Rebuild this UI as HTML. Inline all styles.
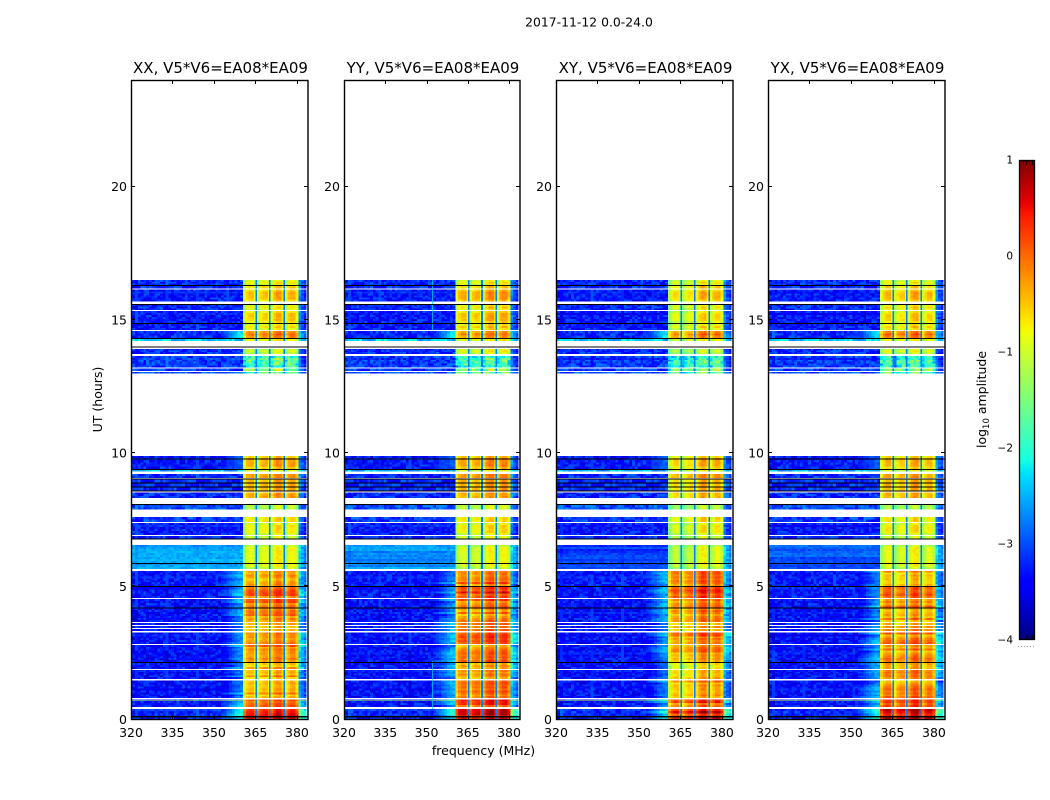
<!DOCTYPE html>
<html lang="en">
<head>
<meta charset="utf-8">
<title>2017-11-12 spectrogram</title>
<style>
html,body{margin:0;padding:0;background:#fff;}
body{width:1050px;height:800px;overflow:hidden;}
svg{display:block;}
text{font-family:"DejaVu Sans","Liberation Sans",sans-serif;fill:#000;}
</style>
</head>
<body>
<svg id="chart" xmlns="http://www.w3.org/2000/svg" width="1050" height="800" viewBox="0 0 1050 800">
<rect x="0" y="0" width="1050" height="800" fill="#fff"/>
<text x="589" y="26.5" font-size="12.4" text-anchor="middle">2017-11-12 0.0-24.0</text>
<text x="483.5" y="755" font-size="12.5" text-anchor="middle">frequency (MHz)</text>
<text x="0" y="0" font-size="12.5" text-anchor="middle" transform="translate(102,399.5) rotate(-90)">UT (hours)</text>
<text x="0" y="0" font-size="12.5" text-anchor="middle" transform="translate(986,399.5) rotate(-90)">log<tspan font-size="8.5" dy="3">10</tspan><tspan dy="-3"> amplitude</tspan></text>
<g id="panels"></g>
<g id="colorbar"></g>
</svg>
<script>
// Axis ranges and ticks
const freqMin = 320, freqMax = 384, hourMin = 0, hourMax = 24;
const freqTicks = [320, 335, 350, 365, 380];
const hourTicks = [0, 5, 10, 15, 20];
const colorTicks = [1, 0, -1, -2, -3, -4];
const colorTickLabels = ['1', '0', '\u22121', '\u22122', '\u22123', '\u22124'];
const colorMin = -4, colorMax = 1;

// Panels
const panelNames = ['XX', 'YY', 'XY', 'YX'];
const panelTitle = ', V5*V6=EA08*EA09';

// Observed time rows (UT hours); gaps between rows are unobserved
const rowStart = [0,.46,.69,.72,.80,1.52,1.89,2.16,2.83,3.33,3.43,3.55,3.66,4.21,4.56,5.01,5.65,6.79,6.92,7.42,7.88,8.32,8.46,8.59,8.74,8.89,9.06,9.31,9.41,12.98,13.08,13.22,13.72,14.21,14.32,14.62,14.88,15.37,15.69,16.17,16.30];
const rowEnd   = [.39,.69,.72,.76,1.46,1.86,2.13,2.80,3.27,3.40,3.51,3.62,4.18,4.52,4.97,5.58,6.55,6.89,7.38,7.60,8.05,8.46,8.51,8.70,8.85,9.00,9.21,9.37,9.89,13.04,13.18,13.64,13.91,14.29,14.58,14.85,15.33,15.56,16.13,16.26,16.49];

// Log10 amplitude for each row: background, shoulder, upper edge
const rowBg       = [-3.2,-3.3,-1.2,-3.3,-3.35,-3.35,-3.35,-3.35,-3.35,-3.3,-3.3,-3.3,-3.35,-3.35,-3.3,-3.3,-3,-3.2,-3.3,-3.1,-3,-3.2,-3.2,-3.2,-3.2,-3.2,-3.2,-2.5,-3.3,-3,-3.1,-3.1,-3.2,-2.4,-3.2,-3.3,-3.3,-3.2,-3.3,-3.2,-3.2];
const rowShoulder = [-2.1,-2.5,-1.2,-2.5,-2.6,-2.7,-2.7,-2.5,-2.5,-2.6,-2.6,-2.6,-2.6,-2.5,-2.5,-2.6,null,null,null,null,null,null,null,null,null,null,null,null,-2.9,null,null,null,null,null,-2.2,null,null,null,null,null,null];
const rowEdge     = [-2.1,-2.8,-1.2,-2.8,-3.0,-2.9,-2.8,-2.6,-2.5,-2.9,-2.9,-2.9,-2.8,-2.7,-2.7,-2.9,-2.75,-3.2,-3.3,-3.2,-3.1,-3.1,-3.1,-3.1,-3.1,-3.1,-3.1,-2.6,-3.1,-3.2,-3.2,-3.3,-3.3,-2.6,-2.9,-3.2,-3.2,-3.2,-3.2,-3.2,-3.1];

// Band level per row for each polarisation
const levelsXX = [.4,-.1,0,0,-.3,-.35,-.45,-.1,-.1,-.3,-.25,-.25,-.15,0,.05,-.45,-.85,-1,-.75,-.65,-1.15,-.3,-.4,-.4,-.4,-.4,-.25,-.9,-.35,-1.6,-1.4,-1.7,-.9,-.8,0,-.65,-.55,-.7,-.45,-.6,-.7];
const levelsYY = [.5,.15,.2,.2,-.2,-.45,-.55,-.2,0,-.2,-.25,-.25,-.25,-.05,.25,-.05,-.95,-1,-.75,-.7,-1.1,-.4,-.4,-.4,-.4,-.4,-.25,-.9,-.3,-1.6,-1.4,-1.8,-.8,-.9,-.15,-.55,-.5,-.65,-.35,-.6,-.75];
const levelsXY = [.45,.1,.2,.2,-.25,-.35,-.55,-.2,-.05,-.3,-.25,-.25,-.3,-.15,.15,-.15,-.95,-1.1,-.8,-.7,-1.2,-.5,-.5,-.5,-.5,-.5,-.3,-.9,-.45,-1.6,-1.4,-1.75,-1,-.9,-.05,-.7,-.7,-.75,-.5,-.6,-.75];
const levelsYX = [.5,.15,.25,.25,-.2,-.25,-.5,-.2,-.1,-.3,-.25,-.25,-.25,-.1,.2,-.35,-.85,-1,-.7,-.7,-1.15,-.4,-.4,-.4,-.4,-.4,-.3,-.9,-.4,-1.6,-1.4,-1.7,-.8,-.8,.05,-.55,-.55,-.6,-.4,-.6,-.7];

// The pale 5.65-6.55 h row has a different background per polarisation
const paleRowBg = [-2.6, -2.65, -3.1, -2.95];
const paleRow = 16;

// Per-polarisation offsets of the four passbands
const bandOffsetXX = [-.05, -.05, .15, .05];
const bandOffsetYY = [0, -.05, .2, .15];
const bandOffsetXY = [-.15, -.2, .2, .1];
const bandOffsetYX = [0, -.15, .15, -.05];

// Passband edges, per-channel shape and narrow notches
const bandEdges = [360.5, 365.5, 370.5, 375.5, 380.5];
const bandShape = [-.45, -.1, .05, .05, -.3];
const rowRimDrop = -.2;
const notchFreqs = [365, 369.9, 375.1];
const notchWidth = .6;
const notchLevel = -2.75;
const shoulderRamp = [.95, .9, .75, .6, .45, .3, .15, .05];
const edgeShape = [.45, .2, 0, -.1];

// Measured speckle and striping textures (log10 offsets)
const speckle = [.12,-.21,.3,-.08,.02,-.33,.19,-.14,.27,.05,-.26,.09,-.03,.33,-.18,.07,-.3,.16,-.11,.24,-.05,.31,-.24,.01,.14,-.17,.22,-.34,.1,-.07,.28,-.2,.04,-.12,.18,-.28,.25,-.02,.11,-.23,.34,-.15,.06];
const stripes = [.1,-.18,.22,-.05,.14,-.25,.03,.2,-.12,.16,-.3,.08,.24,-.08,-.2,.12,-.02,.26,-.16,.06,-.22,.18,-.1];

// Thin dropouts drawn black
const darkStart = [.08,2.13,4.18,4.97,5.84,6.76,8.05,8.55,8.70,8.85,9.00,9.37,9.77,13.97,14.29,14.85,15.56,16.26];
const darkEnd   = [.13,2.16,4.21,5.01,5.87,6.79,8.08,8.59,8.74,8.89,9.04,9.41,9.80,14.00,14.32,14.88,15.59,16.30];

// Faint RFI spur visible in YY
const spurFreq = 352;
const spurPanel = 1;
const spurStart = [.4, 14.6];
const spurEnd = [2.2, 16.49];
const spurLevel = -2.3;

const panelLefts = [131, 344, 556, 768];
const panelWidths = [177, 176, 177, 177];
const axisTop = 80, axisBottom = 719.5;
const NS = 'http://www.w3.org/2000/svg';

function xScale(left, width, f) { return left + (f - freqMin) / (freqMax - freqMin) * width; }
function yScale(h) { return axisBottom - (h - hourMin) / (hourMax - hourMin) * (axisBottom - axisTop); }
function ramp(t, pts) {
  for (let i = 1; i < pts.length; i++) {
    if (t <= pts[i][0]) {
      const a = pts[i - 1], b = pts[i];
      return a[1] + (b[1] - a[1]) * (t - a[0]) / (b[0] - a[0]);
    }
  }
  return pts[pts.length - 1][1];
}
function jet(t) {
  t = Math.max(0, Math.min(1, t));
  const r = ramp(t, [[0, 0], [.35, 0], [.66, 1], [.89, 1], [1, .5]]);
  const g = ramp(t, [[0, 0], [.125, 0], [.375, 1], [.64, 1], [.91, 0], [1, 0]]);
  const b = ramp(t, [[0, .5], [.11, 1], [.34, 1], [.65, 0], [1, 0]]);
  return 'rgb(' + Math.round(r * 255) + ',' + Math.round(g * 255) + ',' + Math.round(b * 255) + ')';
}
function colorOf(v) { return jet((v - colorMin) / (colorMax - colorMin)); }
function make(tag, parent) {
  const el = document.createElementNS(NS, tag);
  parent.appendChild(el);
  return el;
}
function setAttrs(el, o) { for (const k in o) el.setAttribute(k, o[k]); }

const levelTables = [levelsXX, levelsYY, levelsXY, levelsYX];
const offsetTables = [bandOffsetXX, bandOffsetYY, bandOffsetXY, bandOffsetYX];
const panelsRoot = document.getElementById('panels');
const subRowHours = .075;

function cellValue(p, r, ch, j, n) {
  const center = freqMin + ch;
  const low = rowStart[r] < 5.6;
  const noise = speckle[(ch * 17 + j * 29 + ((ch * j) % 11) * 7 + p * 11 + r * 3) % speckle.length];
  const stripe = stripes[(j * 2 + r * 2 + p * 3) % stripes.length];
  let bg = rowBg[r];
  if (r === paleRow) bg = paleRowBg[p];
  if (center < bandEdges[0]) {
    let v = r === paleRow ? bg + noise * .4 + stripe * .5 : bg + noise;
    if (rowShoulder[r] !== null) {
      const d = Math.floor(bandEdges[0] - center);
      if (d < shoulderRamp.length) {
        const w = shoulderRamp[d];
        v = bg * (1 - w) + rowShoulder[r] * w + noise * .4 + (low ? stripe : 0);
      }
    }
    return v;
  }
  if (center < bandEdges[4]) {
    const b = Math.min(3, Math.floor((center - bandEdges[0]) / 5));
    const k = Math.floor(center - bandEdges[b]);
    const L = levelTables[p][r];
    const amp = L < -1.3 ? 1.5 : .25;
    const rim = (!low && n >= 3 && (j === 0 || j === n - 1)) ? rowRimDrop : 0;
    return L + offsetTables[p][b] + bandShape[k] + rim + noise * amp + (low ? stripe : 0);
  }
  const e = Math.floor(center - bandEdges[4]);
  return rowEdge[r] + edgeShape[Math.min(e, 3)] + noise * .6 + (low ? stripe * .8 : 0);
}

panelNames.forEach(function (name, p) {
  const left = panelLefts[p], width = panelWidths[p];
  const key = name.toLowerCase();
  const g = make('g', panelsRoot);
  
  

  const clip = make('clipPath', g);
  clip.setAttribute('id', 'clip-' + key);
  const clipRect = make('rect', clip);
  setAttrs(clipRect, { x: left, y: axisTop, width: width, height: axisBottom - axisTop });

  const heat = make('g', g);
  
  
  heat.setAttribute('clip-path', 'url(#clip-' + key + ')');
  heat.setAttribute('shape-rendering', 'crispEdges');

  rowStart.forEach(function (start, r) {
    const end = rowEnd[r];
    const n = Math.max(1, Math.round((end - start) / subRowHours));
    const dh = (end - start) / n;
    for (let j = 0; j < n; j++) {
      const y0 = yScale(start + (j + 1) * dh), y1 = yScale(start + j * dh);
      for (let ch = 0; ch < freqMax - freqMin; ch++) {
        const x0 = xScale(left, width, freqMin + ch - .5), x1 = xScale(left, width, freqMin + ch + .5);
        const cell = make('rect', heat);
        
        
        cell.setAttribute('x', x0.toFixed(2));
        cell.setAttribute('y', y0.toFixed(2));
        cell.setAttribute('width', (x1 - x0).toFixed(2));
        cell.setAttribute('height', (y1 - y0).toFixed(2));
        cell.setAttribute('fill', colorOf(cellValue(p, r, ch, j, n)));
      }
    }
    notchFreqs.forEach(function (f) {
      const nx0 = xScale(left, width, f), nx1 = xScale(left, width, f + notchWidth);
      const notch = make('rect', heat);
      
      
      setAttrs(notch, { x: nx0.toFixed(2), y: yScale(end).toFixed(2), width: (nx1 - nx0).toFixed(2), height: (yScale(start) - yScale(end)).toFixed(2), fill: colorOf(notchLevel) });
    });
  });

  if (p === spurPanel) {
    spurStart.forEach(function (h0, i) {
      const spur = make('rect', heat);
      
      
      setAttrs(spur, { x: xScale(left, width, spurFreq).toFixed(2), y: yScale(spurEnd[i]).toFixed(2), width: 1, height: (yScale(h0) - yScale(spurEnd[i])).toFixed(2), fill: colorOf(spurLevel), opacity: .7 });
    });
  }

  darkStart.forEach(function (h0, i) {
    const dark = make('rect', heat);
    
    
    setAttrs(dark, { x: left, y: yScale(darkEnd[i]).toFixed(2), width: width, height: Math.max(1, yScale(h0) - yScale(darkEnd[i])).toFixed(2), fill: '#000' });
  });

  const frame = make('rect', g);
  
  
  setAttrs(frame, { x: left + .5, y: axisTop + .5, width: width - .5, height: axisBottom - axisTop - .5, fill: 'none', stroke: '#000', 'stroke-width': 1.4 });

  const title = make('text', g);
  
  
  setAttrs(title, { x: left + width / 2 + 1, y: 73, 'font-size': 15, 'text-anchor': 'middle' });
  title.textContent = name + panelTitle;

  freqTicks.forEach(function (f) {
    const x = Math.round(xScale(left, width, f)) + .5;
    [[axisBottom, axisBottom - 4], [axisTop, axisTop + 4]].forEach(function (yy) {
      const t = make('line', g);
      
      
      setAttrs(t, { x1: x, x2: x, y1: yy[0], y2: yy[1], stroke: '#000', 'stroke-width': 1 });
    });
    const lbl = make('text', g);
    
    
    setAttrs(lbl, { x: xScale(left, width, f), y: 737, 'font-size': 12.5, 'text-anchor': 'middle' });
    lbl.textContent = String(f);
  });

  hourTicks.forEach(function (h) {
    const y = Math.round(yScale(h)) - .5;
    [[left, left + 4], [left + width, left + width - 4]].forEach(function (xx) {
      const t = make('line', g);
      
      
      setAttrs(t, { x1: xx[0], x2: xx[1], y1: y, y2: y, stroke: '#000', 'stroke-width': 1 });
    });
    const lbl = make('text', g);
    
    
    setAttrs(lbl, { x: left - 4, y: yScale(h) + 4.5, 'font-size': 12.5, 'text-anchor': 'end' });
    lbl.textContent = String(h);
  });
});

// Colorbar
const cbLeft = 1019, cbWidth = 16, cbTop = 160, cbBottom = 640;
const cbRoot = document.getElementById('colorbar');
function cbY(v) { return cbBottom - (v - colorMin) / (colorMax - colorMin) * (cbBottom - cbTop); }
const cbGroup = make('g', cbRoot);
cbGroup.setAttribute('shape-rendering', 'crispEdges');
for (let py = cbTop; py < cbBottom; py++) {
  const s = make('rect', cbGroup);
  
  
  setAttrs(s, { x: cbLeft, y: py, width: cbWidth, height: 1, fill: jet((cbBottom - py - .5) / (cbBottom - cbTop)) });
}
const cbFrame = make('rect', cbRoot);


setAttrs(cbFrame, { x: cbLeft + .5, y: cbTop + .5, width: cbWidth - 1, height: cbBottom - cbTop - 1, fill: 'none', stroke: '#000', 'stroke-width': 1.3 });
[1023, 1026, 1029, 1032].forEach(function (x) {
  [[cbTop, cbTop + 5], [cbBottom, cbBottom - 5]].forEach(function (yy) {
    const t = make('line', cbRoot);
    
    
    setAttrs(t, { x1: x + .5, x2: x + .5, y1: yy[0], y2: yy[1], stroke: '#000', 'stroke-width': 1, opacity: .75 });
  });
});
colorTicks.forEach(function (v, i) {
  const lbl = make('text', cbRoot);
  
  
  setAttrs(lbl, { x: 1013, y: cbY(v) + 3.5, 'font-size': 10.5, 'text-anchor': 'end' });
  lbl.textContent = colorTickLabels[i];
});
[1018, 1021, 1024, 1027, 1030, 1033].forEach(function (x) {
  const d = make('rect', cbRoot);
  
  
  setAttrs(d, { x: x, y: 646, width: 1, height: 1, fill: '#999' });
});
</script>
</body>
</html>
